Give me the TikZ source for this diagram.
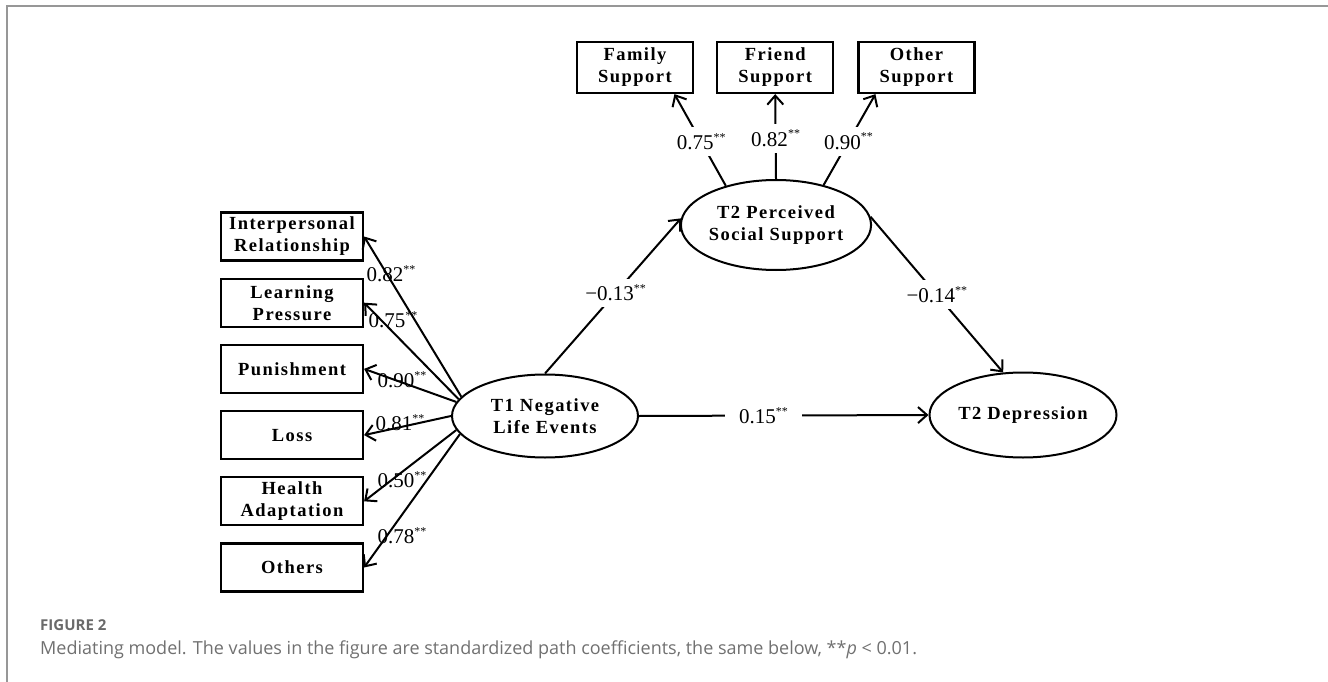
\documentclass[tikz,border=0pt]{standalone}
\usepackage{fontspec}
\usepackage{xcolor}
\usepackage{tikz}
\usetikzlibrary{arrows.meta,positioning,shapes.geometric}
\setmainfont{Liberation Serif}
\newfontfamily\capfont{Open Sans}
\newfontfamily\semfont[LetterSpace=8]{Liberation Serif}
\definecolor{frGray}{HTML}{979797}
\definecolor{capGray}{HTML}{707070}
\definecolor{figGray}{HTML}{6A6A6A}
\newcommand{\sigst}{\raisebox{0.4em}{\fontsize{12}{12}\selectfont**}}

\begin{document}
\begin{tikzpicture}[x=1pt,y=-1pt,
  ind/.style={draw,line width=2.2pt,minimum width=142pt,minimum height=48pt,align=center,inner sep=0pt,
    font=\semfont\bfseries\fontsize{18.5}{22}\selectfont},
  sind/.style={ind,minimum width=116pt,minimum height=51pt},
  lat/.style={draw,ellipse,line width=2pt,minimum width=186pt,minimum height=83pt,align=center,inner sep=0pt,
    font=\semfont\bfseries\fontsize{18.5}{22}\selectfont},
  lnk/.style={line width=2pt,-{Straight Barb[length=9pt,width=16pt,line width=2pt]}},
  coef/.style={font=\fontsize{21}{22}\selectfont,inner sep=1pt},
  gcoef/.style={coef,fill=white,inner ysep=6pt,inner xsep=4pt}]
\useasboundingbox (0,0) rectangle (1328,682);
\draw[frGray,line width=2pt] (7,682) -- (7,6) -- (1328,6);
\node[ind] (ipr) at (292,236.5) {Interpersonal\\Relationship};
\node[ind,below=16pt of ipr] (lrn) {Learning\\Pressure};
\node[ind,below=16pt of lrn] (pun) {Punishment};
\node[ind,below=16pt of pun] (los) {Loss};
\node[ind,below=16pt of los] (hlt) {Health\\Adaptation};
\node[ind,below=16pt of hlt] (oth) {Others};
\node[sind] (fam) at (635,67.5) {Family\\Support};
\node[sind,right=22pt of fam] (fri) {Friend\\Support};
\node[sind,right=23pt of fri] (osp) {Other\\Support};
\node[lat] (t1) at (545,416) {T1 Negative\\Life Events};
\node[lat,minimum width=188pt,minimum height=90pt] (pss) at (776,225) {T2 Perceived\\Social Support};
\node[lat,minimum width=187pt,minimum height=85pt] (dep) at (1023,415) {T2 Depression};
\draw[lnk] (t1.167) -- (ipr.east);
\draw[lnk] (t1.169) -- (lrn.east);
\draw[lnk] (t1.171) -- (pun.east);
\draw[lnk] (t1.180) -- (los.east);
\draw[lnk] (t1.189) -- (hlt.east);
\draw[lnk] (t1.192) -- (oth.east);
\node[coef] (c1) at (391,274) {0.82\sigst};
\node[coef] (c2) at (393,320) {0.75\sigst};
\node[coef] (c3) at (402,380) {0.90\sigst};
\node[coef] (c4) at (400,423) {0.81\sigst};
\node[coef] (c5) at (402,480) {0.50\sigst};
\node[coef] (c6) at (402,536) {0.78\sigst};
\draw[lnk] (pss.142) -- node[gcoef,pos=0.48] (c7) {0.75\sigst} (fam.-34);
\draw[lnk] (pss.north) -- node[gcoef,pos=0.48] (c8) {0.82\sigst} (fri.south);
\draw[lnk] (pss.40) -- node[gcoef,pos=0.48] (c9) {0.90\sigst} (osp.-147);
\draw[lnk] (t1.north) -- node[gcoef,pos=0.52] (c10) {−0.13\sigst} (pss.176);
\draw[lnk] (pss.5) -- node[gcoef,pos=0.5] (c11) {−0.14\sigst} (dep.115);
\draw[lnk] (t1.east) -- node[gcoef,pos=0.43,inner xsep=14pt] (c12) {0.15\sigst} (dep.west);
\node[anchor=base west,inner sep=0pt,text=figGray,font=\capfont\bfseries\fontsize{15}{18}\selectfont] (fig) at (40,630) {FIGURE 2};
\node[anchor=base west,inner sep=0pt,text=capGray,font=\capfont\fontsize{18}{21}\selectfont] (cap) at (40,654) {Mediating model. The values in the figure are standardized path coefficients, the same below, **\textit{p} < 0.01.};
\end{tikzpicture}
\end{document}
